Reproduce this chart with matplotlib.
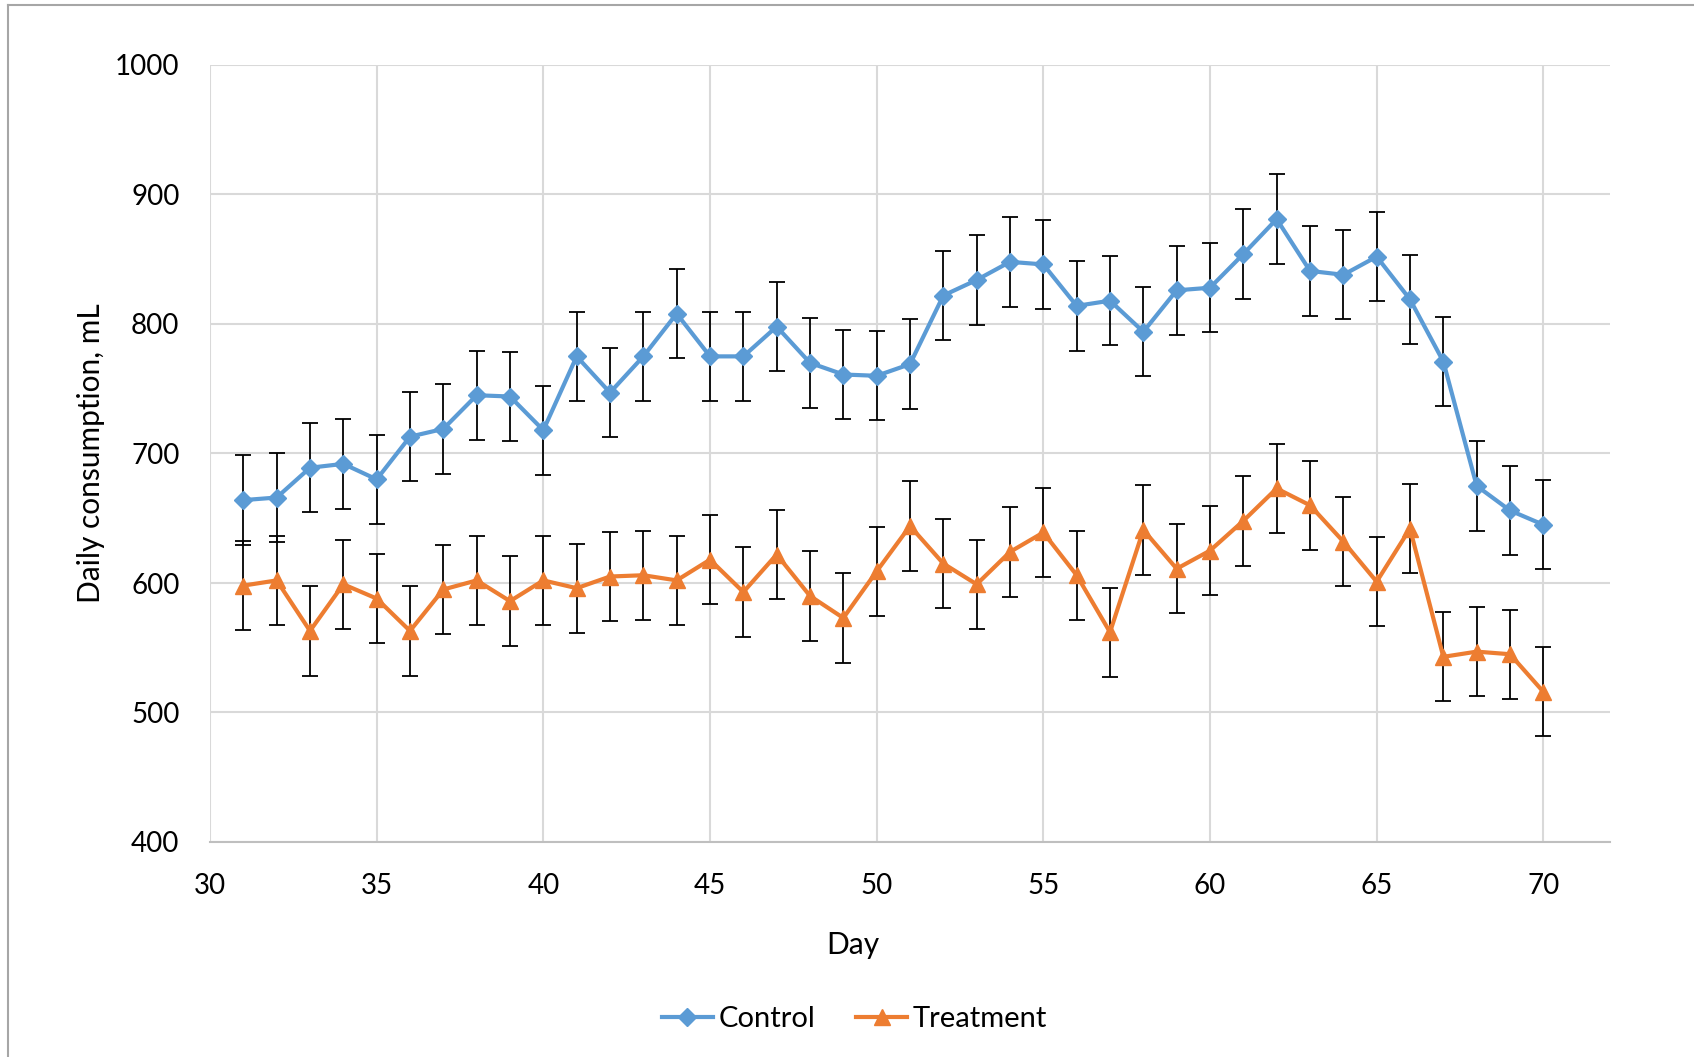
import numpy as np
import matplotlib.pyplot as plt
from matplotlib.lines import Line2D

plt.rcParams['font.family'] = ['Lato', 'DejaVu Sans']

days = list(range(31, 71))

control = [664, 666, 689, 692, 680, 713, 719, 745, 744, 718,
           775, 747, 775, 808, 775, 775, 798, 770, 761, 760,
           769, 822, 834, 848, 846, 814, 818, 794, 826, 828,
           854, 881, 841, 838, 852, 819, 771, 675, 656, 645]
control_err = [34.5] * 40

treatment = [598, 602, 563, 599, 588, 563, 595, 602, 586, 602,
             596, 605, 606, 602, 618, 593, 622, 590, 573, 609,
             644, 615, 599, 624, 639, 606, 562, 641, 611, 625,
             648, 673, 660, 632, 601, 642, 543, 547, 545, 516]
treatment_err = [34.5] * 40

blue = '#5B9BD5'
orange = '#ED7D31'

fig = plt.figure(figsize=(16.94, 10.57), dpi=100)
ax = fig.add_axes([210 / 1694, 1 - 842 / 1057, 1400 / 1694, 777 / 1057])

ax.errorbar(days, control, yerr=control_err, color=blue, lw=3, marker='D', ms=9,
            ecolor='black', elinewidth=1.3, capsize=5.5, capthick=1.3, zorder=3)
ax.errorbar(days, treatment, yerr=treatment_err, color=orange, lw=3, marker='^', ms=11,
            ecolor='black', elinewidth=1.3, capsize=5.5, capthick=1.3, zorder=3)

ax.set_xlim(30, 72)
ax.set_ylim(400, 1000)
ax.set_xticks(range(30, 71, 5))
ax.set_yticks(range(400, 1001, 100))
ax.grid(True, color='#d9d9d9', lw=1.5, zorder=0)
ax.set_axisbelow(True)
for s in ['top', 'right', 'left']:
    ax.spines[s].set_visible(False)
ax.spines['bottom'].set_color('#bfbfbf')
ax.spines['bottom'].set_linewidth(1.5)
ax.tick_params(length=0, labelsize=20, pad=22)

ax.set_xlabel('Day', fontsize=21.5)
ax.set_ylabel('Daily consumption, mL', fontsize=21.5)
ax.xaxis.set_label_coords(0.459, -0.114)
ax.yaxis.set_label_coords(-0.075, 0.5)

handles = [Line2D([], [], color=blue, lw=3, marker='D', ms=9),
           Line2D([], [], color=orange, lw=3, marker='^', ms=11)]
fig.legend(handles, ['Control', 'Treatment'], loc='center', bbox_to_anchor=(0.5045, 0.036),
           ncol=2, frameon=False, fontsize=21, handlelength=1.75, handletextpad=0.2,
           columnspacing=1.4)

# chart border (cut off on right and bottom)
fig.add_artist(Line2D([8 / 1694, 1], [1 - 5 / 1057, 1 - 5 / 1057], color='#a6a6a6', lw=1.5))
fig.add_artist(Line2D([8 / 1694, 8 / 1694], [0, 1 - 5 / 1057], color='#a6a6a6', lw=1.5))

fig.savefig('out.png', dpi=100)
